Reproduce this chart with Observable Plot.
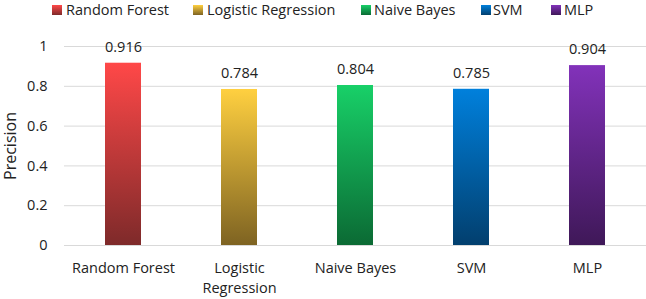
<!DOCTYPE html>
<html>
<head>
<meta charset="utf-8">
<script src="https://cdn.jsdelivr.net/npm/d3@7"></script>
<script src="https://cdn.jsdelivr.net/npm/@observablehq/plot@0.6"></script>
<style>
  html, body { margin: 0; padding: 0; background: #fff; }
  body { width: 646px; height: 299px; overflow: hidden; font-family: "Open Sans", Lato, sans-serif; color: #222; }
  #legend { position: relative; height: 20px; font-size: 14.5px; }
  .sw { position: absolute; top: 5px; width: 10px; height: 10px; }
  .lt { position: absolute; top: 0px; line-height: 20px; white-space: nowrap; }
</style>
</head>
<body>
<div id="legend"></div>
<div id="chart"></div>
<script>
const categories = ["Random Forest", "Logistic Regression", "Naive Bayes", "SVM", "MLP"];
const tickLabels = ["Random Forest", "Logistic\nRegression", "Naive Bayes", "SVM", "MLP"];
const precision = [0.916, 0.784, 0.804, 0.785, 0.904];
const topColors = ["#ff4848", "#ffd040", "#18d068", "#0080dc", "#8232ba"];
const bottomColors = ["#7e2a2a", "#7e6322", "#0b6a34", "#023f6e", "#3f1858"];
const yTicks = [0, 0.2, 0.4, 0.6, 0.8, 1];
const legendSwatchX = [52, 193, 361, 481, 551];
const legendTextX = [66, 207, 374, 493, 564];

const data = categories.map((c, i) => ({category: c, value: precision[i]}));
const urls = categories.map((c, i) => `url(#grad${i})`);

// Legend
const legend = document.getElementById("legend");
categories.forEach((c, i) => {
  const sw = document.createElement("span");
  sw.className = "sw";
  sw.style.left = legendSwatchX[i] + "px";
  sw.style.background = `linear-gradient(${topColors[i]}, ${bottomColors[i]})`;
  legend.appendChild(sw);
  const t = document.createElement("span");
  t.className = "lt";
  t.style.left = legendTextX[i] + "px";
  t.textContent = c;
  legend.appendChild(t);
});

const chart = Plot.plot({
  width: 646,
  height: 279,
  marginTop: 26,
  marginBottom: 54,
  marginLeft: 64,
  marginRight: 0,
  style: {fontFamily: "'Open Sans', Lato, sans-serif", fontSize: "14.5px", color: "#222", background: "#fff"},
  x: {domain: categories, paddingInner: 0.687, paddingOuter: 0.3435, label: null},
  y: {domain: [0, 1], ticks: yTicks, label: null},
  color: {type: "ordinal", domain: categories, range: urls},
  marks: [
    Plot.gridY(yTicks, {stroke: "#d9d9d9", strokeOpacity: 1, strokeWidth: 1}),
    Plot.barY(data, {x: "category", y: "value", fill: "category"}),
    Plot.text(data, {x: "category", y: "value", text: d => d.value.toFixed(3), dy: -16, lineAnchor: "middle", fontSize: 14.5, fill: "#222"}),
    Plot.axisY({ticks: yTicks, tickSize: 0, tickPadding: 17, fontSize: 14.5, tickFormat: d => String(d), label: null}),
    Plot.axisX({tickSize: 0, tickPadding: 13.5, fontSize: 14.5, lineHeight: 1.38, tickFormat: d => tickLabels[categories.indexOf(d)], label: null}),
    Plot.text(["Precision"], {frameAnchor: "left", textAnchor: "middle", dx: -54, rotate: -90, fontSize: 16, fill: "#222"})
  ]
});

// gradient defs
const ns = "http://www.w3.org/2000/svg";
const defs = document.createElementNS(ns, "defs");
categories.forEach((c, i) => {
  const g = document.createElementNS(ns, "linearGradient");
  g.setAttribute("id", "grad" + i);
  g.setAttribute("x1", "0"); g.setAttribute("y1", "0");
  g.setAttribute("x2", "0"); g.setAttribute("y2", "1");
  [[0, topColors[i]], [1, bottomColors[i]]].forEach(([o, col]) => {
    const s = document.createElementNS(ns, "stop");
    s.setAttribute("offset", o);
    s.setAttribute("stop-color", col);
    g.appendChild(s);
  });
  defs.appendChild(g);
});
chart.insertBefore(defs, chart.firstChild);
document.getElementById("chart").appendChild(chart);
</script>
</body>
</html>
